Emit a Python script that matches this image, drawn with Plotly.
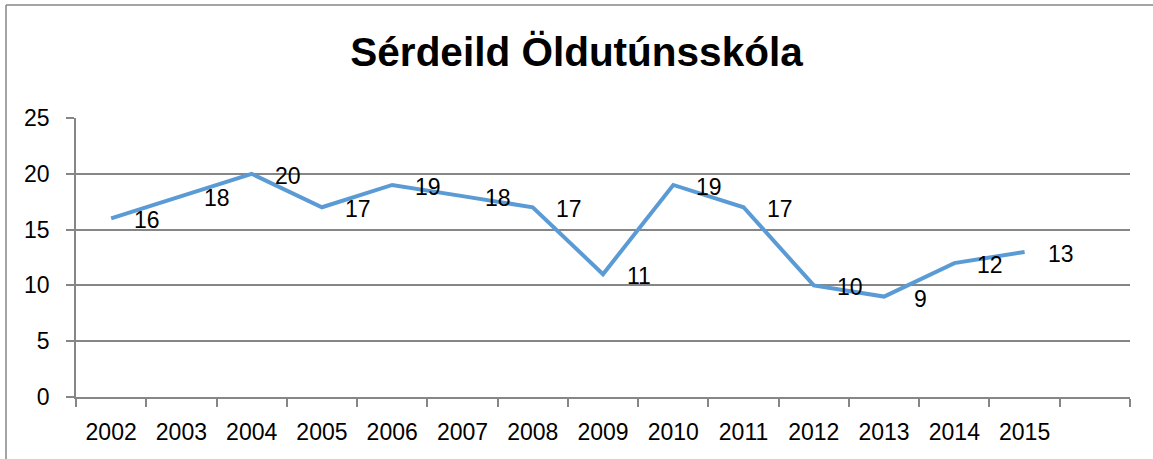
import plotly.graph_objects as go

years = [2002, 2003, 2004, 2005, 2006, 2007, 2008, 2009, 2010, 2011, 2012, 2013, 2014, 2015]
values = [16, 18, 20, 17, 19, 18, 17, 11, 19, 17, 10, 9, 12, 13]
title_text = "Sérdeild Öldutúnsskóla"

FONT = "Liberation Sans"
GRAY = "#868686"
BLUE = "#5B9BD5"

W, H = 1153, 459
L, R, T, B = 76, 1130, 118, 397

fig = go.Figure()
fig.add_trace(go.Scatter(
    x=years, y=values, mode="lines",
    line=dict(color=BLUE, width=4),
    hoverinfo="skip", showlegend=False,
))

for x, y in zip(years, values):
    fig.add_annotation(x=x, y=y, text=str(y), showarrow=False,
                       xanchor="center", yanchor="middle",
                       xshift=36, yshift=-2,
                       font=dict(family=FONT, size=23, color="#000000"))

def px_to_paper_x(px):
    return (px - L) / (R - L)

def px_to_paper_y(py):
    return (B - py) / (B - T)

# chart border: only left and top edges are visible in the frame
fig.add_shape(type="line", xref="paper", yref="paper",
              x0=px_to_paper_x(6), y0=px_to_paper_y(5),
              x1=px_to_paper_x(6), y1=px_to_paper_y(H),
              line=dict(color=GRAY, width=1.5), layer="below")
fig.add_shape(type="line", xref="paper", yref="paper",
              x0=px_to_paper_x(6), y0=px_to_paper_y(5),
              x1=px_to_paper_x(W), y1=px_to_paper_y(5),
              line=dict(color=GRAY, width=1.5), layer="below")

fig.update_layout(
    width=W, height=H,
    margin=dict(l=L, r=W - R, t=T, b=H - B, autoexpand=False),
    paper_bgcolor="white", plot_bgcolor="white",
    title=dict(text="<b>" + title_text + "</b>", x=0.5, xref="container",
               y=1 - 52 / H, yref="container", xanchor="center", yanchor="middle",
               font=dict(family=FONT, size=40.5, color="#000000")),
    font=dict(family=FONT, size=23, color="#000000"),
)

fig.update_xaxes(
    range=[years[0] - 0.5, years[0] + 14.5],
    tickmode="array", tickvals=years, ticktext=[str(y) for y in years],
    ticks="", showgrid=False, zeroline=False, automargin=False,
    showline=True, linecolor=GRAY, linewidth=1.5,
    ticklabelstandoff=14,
    minor=dict(tick0=years[0] - 0.5, dtick=1, ticks="outside", ticklen=8,
               tickcolor=GRAY, tickwidth=1.5, showgrid=False),
    tickfont=dict(family=FONT, size=23, color="#000000"),
)

fig.update_yaxes(
    range=[0, 25], dtick=5, tick0=0, automargin=False,
    showgrid=True, gridcolor=GRAY, gridwidth=1.5,
    zeroline=False, showline=True, linecolor=GRAY, linewidth=1.5,
    ticks="outside", ticklen=8, tickcolor=GRAY, tickwidth=1.5,
    ticklabelstandoff=12,
    tickfont=dict(family=FONT, size=23, color="#000000"),
)

fig.write_html("out.html", config={"displayModeBar": False},
               post_script="document.body.style.margin='0';document.body.style.overflow='hidden';")
